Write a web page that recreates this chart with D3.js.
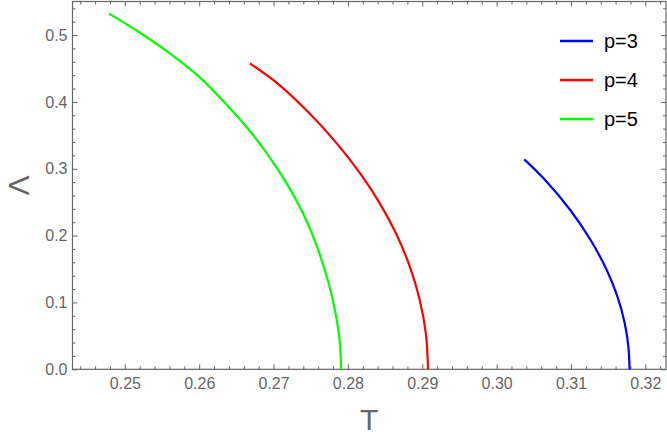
<!DOCTYPE html>
<html>
<head>
<meta charset="utf-8">
<script src="https://cdn.jsdelivr.net/npm/d3@7"></script>
<style>
  body { margin: 0; background: #fff; }
  svg { display: block; font-family: "Liberation Sans", Arial, sans-serif; }
</style>
</head>
<body>
<div id="chart"></div>
<script>
// curves: T values and matching Lambda values
var tP3 = [0.30372, 0.30631, 0.30990, 0.31264, 0.31481, 0.31625, 0.31723, 0.31772, 0.31788];
var lamP3 = [0.3141, 0.2857, 0.2383, 0.1934, 0.1485, 0.1086, 0.0688, 0.0338, 0.0];

var tP4 = [0.26681, 0.27080, 0.27483, 0.27850, 0.28165, 0.28429, 0.28646, 0.28833, 0.28966, 0.29048, 0.29078];
var lamP4 = [0.4577, 0.4252, 0.3829, 0.338, 0.2931, 0.2483, 0.2034, 0.1535, 0.1036, 0.0538, 0.0];

var tP5 = [0.24788, 0.25204, 0.25605, 0.26009, 0.26332, 0.26633, 0.26910, 0.27176, 0.27396, 0.27585, 0.27741, 0.27834, 0.27888, 0.2791];
var lamP5 = [0.532, 0.5034, 0.4726, 0.4367, 0.4002, 0.3629, 0.3231, 0.2782, 0.2333, 0.1834, 0.1286, 0.0838, 0.0438, 0.0];

var seriesNames = ["p=3", "p=4", "p=5"];
var seriesColors = ["#0000ff", "#ff0000", "#00ff00"];

var xMajor = [0.25, 0.26, 0.27, 0.28, 0.29, 0.30, 0.31, 0.32];
var yMajor = [0.0, 0.1, 0.2, 0.3, 0.4, 0.5];

var w = 667, h = 436;
var padL = 72.5, padR = 666, padT = 1.5, padB = 369.3;

var svg = d3.select("#chart").append("svg")
    .attr("width", w)
    .attr("height", h);

var x = d3.scaleLinear().domain([0.24296, 0.32278]).range([padL, padR]);
var y = d3.scaleLinear().domain([0, 0.5502]).range([padB, padT]);

var frameColor = "#666666";

// minor ticks (not on majors)
var xMinor = d3.range(0.244, 0.3225, 0.002).filter(function(v) {
    return Math.abs(v * 100 - Math.round(v * 100)) > 1e-6;
});
var yMinor = d3.range(0.02, 0.55, 0.02).filter(function(v) {
    return Math.abs(v * 10 - Math.round(v * 10)) > 1e-6;
});

function styleAxis(g) {
    g.attr("font-size", 16)
        .attr("font-family", "'Liberation Sans', Arial, sans-serif");
    g.select(".domain").remove();
    g.selectAll("line").attr("stroke", frameColor);
    g.selectAll("text").attr("fill", frameColor);
}

// bottom
svg.append("g").attr("transform", "translate(0," + padB + ")")
    .call(d3.axisBottom(x).tickValues(xMajor).tickSize(-5).tickPadding(8)
        .tickFormat(d3.format(".2f")))
    .call(styleAxis);
svg.append("g").attr("transform", "translate(0," + padB + ")")
    .call(d3.axisBottom(x).tickValues(xMinor).tickSize(-3).tickFormat(""))
    .call(styleAxis);
// top
svg.append("g").attr("transform", "translate(0," + padT + ")")
    .call(d3.axisTop(x).tickValues(xMajor).tickSize(-5).tickFormat(""))
    .call(styleAxis);
svg.append("g").attr("transform", "translate(0," + padT + ")")
    .call(d3.axisTop(x).tickValues(xMinor).tickSize(-3).tickFormat(""))
    .call(styleAxis);
// left
svg.append("g").attr("transform", "translate(" + padL + ",0)")
    .call(d3.axisLeft(y).tickValues(yMajor).tickSize(-5).tickPadding(5)
        .tickFormat(d3.format(".1f")))
    .call(styleAxis);
svg.append("g").attr("transform", "translate(" + padL + ",0)")
    .call(d3.axisLeft(y).tickValues(yMinor).tickSize(-3).tickFormat(""))
    .call(styleAxis);
// right
svg.append("g").attr("transform", "translate(" + padR + ",0)")
    .call(d3.axisRight(y).tickValues(yMajor).tickSize(-5).tickFormat(""))
    .call(styleAxis);
svg.append("g").attr("transform", "translate(" + padR + ",0)")
    .call(d3.axisRight(y).tickValues(yMinor).tickSize(-3).tickFormat(""))
    .call(styleAxis);

// frame
svg.append("rect")
    .attr("x", padL).attr("y", padT)
    .attr("width", padR - padL).attr("height", padB - padT)
    .attr("fill", "none")
    .attr("stroke", frameColor)
    .attr("stroke-width", 1.2);

// axis labels
svg.append("text")
    .attr("x", (padL + padR) / 2)
    .attr("y", 430)
    .attr("text-anchor", "middle")
    .attr("fill", frameColor)
    .style("font-size", "30px")
    .text("T");

svg.append("text")
    .attr("transform", "translate(28.5," + ((padT + padB) / 2) + ") rotate(-90)")
    .attr("text-anchor", "middle")
    .attr("fill", frameColor)
    .style("font-size", "30px")
    .text("Λ");

// curves
var line = d3.line()
    .x(function(d) { return x(d[0]); })
    .y(function(d) { return y(d[1]); })
    .curve(d3.curveCatmullRom.alpha(0.5));

var series = [
    d3.zip(tP3, lamP3),
    d3.zip(tP4, lamP4),
    d3.zip(tP5, lamP5)
];

svg.selectAll(".curve")
    .data(series)
    .enter()
    .append("path")
    .attr("class", "curve")
    .attr("d", line)
    .attr("fill", "none")
    .attr("stroke", function(d, i) { return seriesColors[i]; })
    .attr("stroke-width", 2.2);

// legend
var legend = svg.selectAll(".legend")
    .data(seriesNames)
    .enter()
    .append("g")
    .attr("class", "legend")
    .attr("transform", function(d, i) { return "translate(560," + (41 + i * 39) + ")"; });

legend.append("line")
    .attr("x1", 0).attr("x2", 33)
    .attr("y1", 0).attr("y2", 0)
    .attr("stroke", function(d, i) { return seriesColors[i]; })
    .attr("stroke-width", 2.5);

legend.append("text")
    .attr("x", 44)
    .attr("y", 7)
    .attr("fill", "#000")
    .style("font-size", "20px")
    .text(function(d) { return d; });
</script>
</body>
</html>
